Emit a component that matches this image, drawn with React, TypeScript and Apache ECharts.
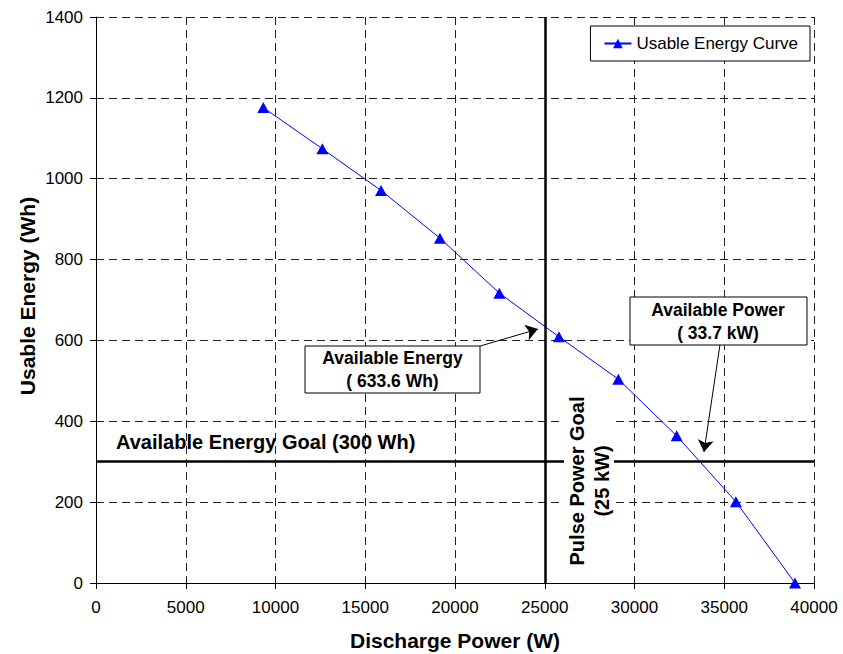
import React, { useEffect, useRef } from "react";
import * as echarts from "echarts";

// Data
const dischargePowerW = [9320, 12610, 15880, 19160, 22470, 25790, 29100, 32350, 35650, 38940];
const usableEnergyWh = [1176, 1074, 971, 853, 717, 609, 504, 364, 201, 0];

const seriesName = "Usable Energy Curve";
const energyGoalWh = 300;
const powerGoalW = 25000;

// Annotation arrows (data coordinates: [W, Wh])
const energyArrow = { from: [21390, 586], to: [24620, 628] };
const powerArrow = { from: [34760, 589], to: [33870, 324] };

const FONT = '"Liberation Sans", Arial, Helvetica, sans-serif';

export default function App() {
  const ref = useRef<HTMLDivElement>(null);

  useEffect(() => {
    document.body.style.margin = "0";
    if (!ref.current) return;
    const chart = echarts.init(ref.current, undefined, { renderer: "svg" });

    const points = dischargePowerW.map((x, i) => [x, usableEnergyWh[i]]);
    const plain = (v: number) => String(v);

    const option: any = {
      animation: false,
      backgroundColor: "#fff",
      textStyle: { fontFamily: FONT, color: "#000" },
      grid: { left: 96, right: 29, top: 17, bottom: 71, outerBoundsMode: "none" },
      legend: {
        data: [seriesName],
        right: 33,
        top: 26,
        borderColor: "#000",
        borderWidth: 1,
        backgroundColor: "#fff",
        padding: [9, 12, 9, 13],
        itemWidth: 27,
        itemHeight: 12,
        textStyle: { fontSize: 17, color: "#000", fontFamily: FONT },
      },
      xAxis: {
        type: "value",
        min: 0,
        max: 40000,
        interval: 5000,
        name: "Discharge Power (W)",
        nameLocation: "middle",
        nameGap: 47,
        nameTextStyle: { fontSize: 21, fontWeight: "bold", color: "#000", fontFamily: FONT },
        axisLine: { show: true, onZero: false, lineStyle: { color: "#000", width: 1 } },
        axisTick: { show: true, length: 6, lineStyle: { color: "#000" } },
        axisLabel: { fontSize: 17, color: "#000", margin: 16, fontFamily: FONT, formatter: plain },
        splitLine: { show: true, lineStyle: { color: "#222", width: 1, type: [8, 5] } },
      },
      yAxis: {
        type: "value",
        min: 0,
        max: 1400,
        interval: 200,
        axisLine: { show: true, onZero: false, lineStyle: { color: "#000", width: 1 } },
        axisTick: { show: true, length: 6, lineStyle: { color: "#000" } },
        axisLabel: { fontSize: 17, color: "#000", margin: 13, fontFamily: FONT, formatter: plain },
        splitLine: { show: true, lineStyle: { color: "#222", width: 1, type: [8, 5] } },
      },
      series: [
        {
          name: "goals",
          type: "line",
          data: [],
          silent: true,
          markLine: {
            silent: true,
            symbol: "none",
            label: { show: false },
            lineStyle: { color: "#000", width: 2.5, type: "solid" },
            emphasis: { disabled: true },
            data: [{ xAxis: powerGoalW }, { yAxis: energyGoalWh }],
          },
        },
        {
          name: seriesName,
          type: "line",
          data: points,
          symbol: "triangle",
          symbolSize: [12, 11],
          lineStyle: { color: "#0000ff", width: 1 },
          itemStyle: { color: "#0000ff" },
          z: 3,
        },
        {
          name: "arrows",
          type: "line",
          data: [],
          silent: true,
          markLine: {
            silent: true,
            symbol: ["none", "arrow"],
            symbolSize: 12,
            label: { show: false },
            lineStyle: { color: "#000", width: 1, type: "solid" },
            emphasis: { disabled: true },
            data: [
              [{ coord: energyArrow.from }, { coord: energyArrow.to }],
              [{ coord: powerArrow.from }, { coord: powerArrow.to }],
            ],
          },
        },
      ],
      graphic: [
        {
          type: "text",
          x: 27,
          y: 296,
          rotation: Math.PI / 2,
          z: 100,
          style: {
            text: "Usable Energy (Wh)",
            fontSize: 21,
            fontWeight: "bold",
            fontFamily: FONT,
            fill: "#000",
            align: "center",
            verticalAlign: "middle",
          },
        },
        {
          type: "text",
          x: 116,
          y: 442,
          z: 100,
          style: {
            text: "Available Energy Goal (300 Wh)",
            fontSize: 20,
            fontWeight: "bold",
            fontFamily: FONT,
            fill: "#000",
            align: "left",
            verticalAlign: "middle",
          },
        },
        {
          type: "text",
          x: 589,
          y: 481,
          rotation: Math.PI / 2,
          z: 100,
          style: {
            text: "Pulse Power Goal\n(25 kW)",
            fontSize: 20,
            fontWeight: "bold",
            fontFamily: FONT,
            fill: "#000",
            align: "center",
            verticalAlign: "middle",
            lineHeight: 25,
            backgroundColor: "#fff",
            padding: [0, 2],
          },
        },
        {
          type: "rect",
          z: 100,
          shape: { x: 305, y: 346, width: 175, height: 47 },
          style: { fill: "#fff", stroke: "#000", lineWidth: 1 },
        },
        {
          type: "text",
          x: 392.5,
          y: 369,
          z: 101,
          style: {
            text: "Available Energy\n( 633.6 Wh)",
            fontSize: 17.5,
            fontWeight: "bold",
            fontFamily: FONT,
            fill: "#000",
            align: "center",
            verticalAlign: "middle",
            lineHeight: 23,
          },
        },
        {
          type: "rect",
          z: 100,
          shape: { x: 630, y: 297, width: 177, height: 48 },
          style: { fill: "#fff", stroke: "#000", lineWidth: 1 },
        },
        {
          type: "text",
          x: 718,
          y: 321,
          z: 101,
          style: {
            text: "Available Power\n( 33.7 kW)",
            fontSize: 17.5,
            fontWeight: "bold",
            fontFamily: FONT,
            fill: "#000",
            align: "center",
            verticalAlign: "middle",
            lineHeight: 23,
          },
        },
      ],
    };

    chart.setOption(option);
    return () => chart.dispose();
  }, []);

  return <div ref={ref} style={{ width: 843, height: 654 }} />;
}
